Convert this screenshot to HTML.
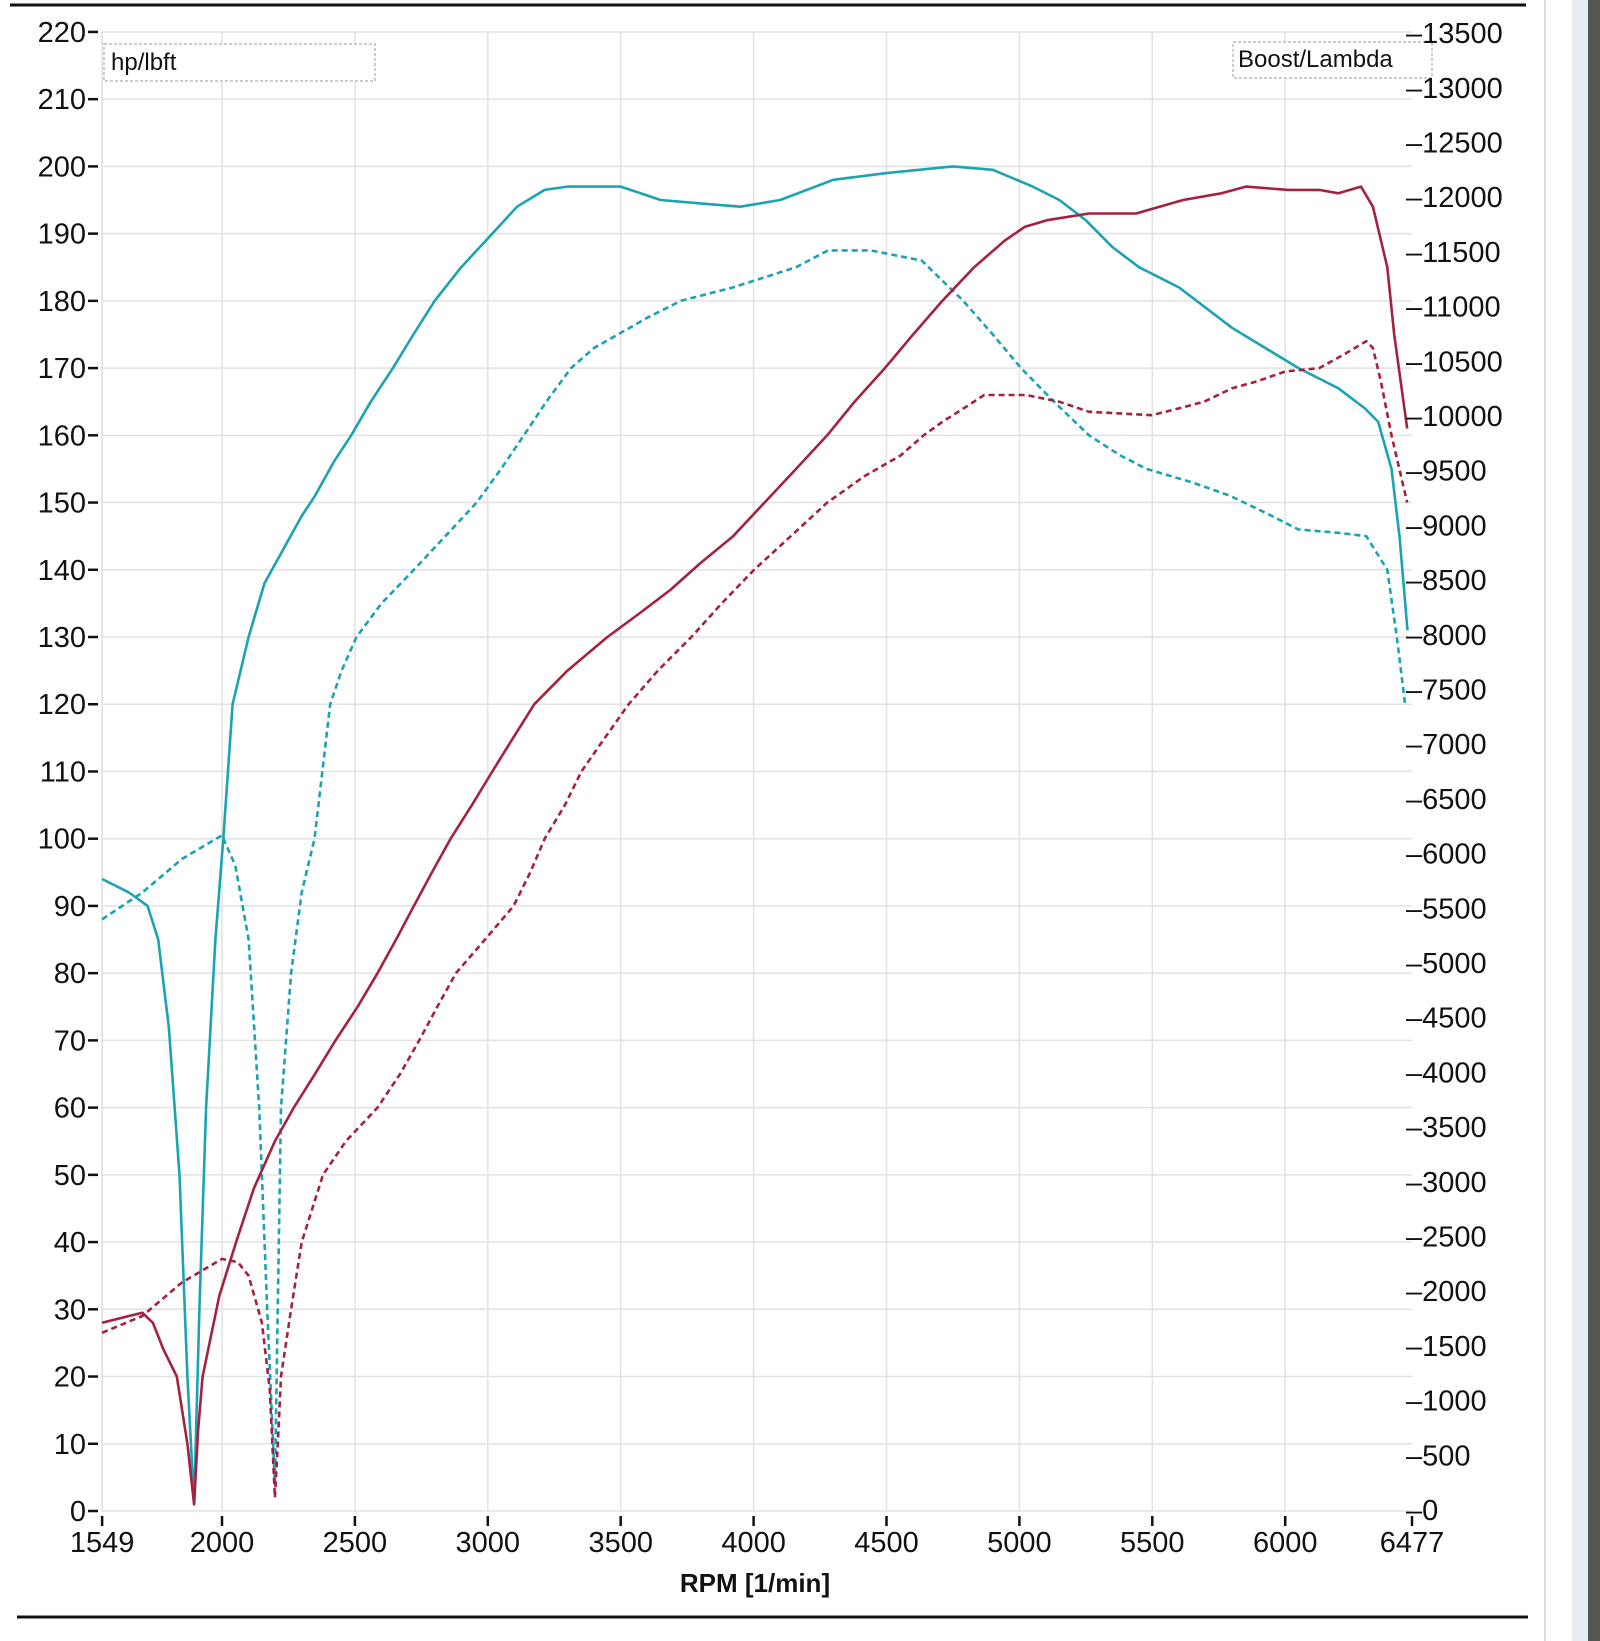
<!DOCTYPE html>
<html><head><meta charset="utf-8"><style>
html,body{margin:0;padding:0;background:#fff;}
svg{display:block}
text{font-family:"Liberation Sans Narrow","Liberation Sans",sans-serif;fill:#111}
</style></head><body>
<svg id="s" width="1600" height="1641" viewBox="0 0 1600 1641" xmlns="http://www.w3.org/2000/svg">
<rect width="1600" height="1641" fill="#fff"/>
<line x1="10" y1="5" x2="1526" y2="5" stroke="#111" stroke-width="3"/>
<line x1="17" y1="1617" x2="1528" y2="1617" stroke="#111" stroke-width="3"/>
<line x1="1545" y1="0" x2="1545" y2="1641" stroke="#ddd" stroke-width="2"/>
<rect x="1588" y="0" width="12" height="1641" fill="#555"/>
<rect x="1572" y="0" width="16" height="1641" fill="#e8eef0"/>
<g id="grid"></g>
<g id="curves"></g>
<rect x="104" y="44" width="271" height="37" fill="#fff" stroke="#bbb" stroke-width="1.5" stroke-dasharray="3,2"/>
<text x="111" y="70" font-size="24">hp/lbft</text>
<rect x="1233" y="42" width="199" height="36" fill="#fff" stroke="#bbb" stroke-width="1.5" stroke-dasharray="3,2"/>
<text x="1238" y="67" font-size="24">Boost/Lambda</text>
<text x="755" y="1592" font-size="26" font-weight="bold" text-anchor="middle">RPM  [1/min]</text>
<g id="labels"></g>
</svg>
<script>
var NS="http://www.w3.org/2000/svg";
function X(r){return 222+(r-2000)*0.2658;}
function Y(v){return 1511-v*6.723;}
function el(p,tag,a,t){var e=document.createElementNS(NS,tag);for(var k in a)e.setAttribute(k,a[k]);if(t!==undefined)e.textContent=t;document.getElementById(p).appendChild(e);return e;}
var L=X(1549),R=X(6477);
for(var v=0;v<=220;v+=10){el("grid","line",{x1:L,x2:R,y1:Y(v),y2:Y(v),stroke:"#e2e2e2","stroke-width":1.5});
 el("labels","text",{x:86,y:Y(v)+10,"font-size":29,"text-anchor":"end"},String(v));
 el("labels","line",{x1:88,x2:98,y1:Y(v),y2:Y(v),stroke:"#111","stroke-width":2.5});}
for(var r=2000;r<=6000;r+=500){el("grid","line",{x1:X(r),x2:X(r),y1:Y(220),y2:Y(0),stroke:"#e2e2e2","stroke-width":1.5});}
el("grid","line",{x1:L,x2:L,y1:Y(220),y2:Y(0),stroke:"#ddd","stroke-width":1.5});
var xl=[[1549,"1549"],[2000,"2000"],[2500,"2500"],[3000,"3000"],[3500,"3500"],[4000,"4000"],[4500,"4500"],[5000,"5000"],[5500,"5500"],[6000,"6000"],[6477,"6477"]];
xl.forEach(function(a){el("labels","line",{x1:X(a[0]),x2:X(a[0]),y1:1516,y2:1526,stroke:"#111","stroke-width":2.5});
 el("labels","text",{x:X(a[0]),y:1552,"font-size":29,"text-anchor":"middle"},a[1]);});
for(var i=0;i<=27;i++){var y=1510-i*54.7;el("labels","text",{x:1406,y:y+10,"font-size":29},"\u2013"+(i*500));}
function path(pts,col,dash){var d="";pts.forEach(function(p,i){d+=(i?"L":"M")+X(p[0]).toFixed(1)+","+Y(p[1]).toFixed(1);});
 var a={d:d,fill:"none",stroke:col,"stroke-width":2.6,"stroke-linejoin":"round"};if(dash)a["stroke-dasharray"]="6,4";el("curves","path",a);}
var C="#1ba3b2",Rd="#a3223f";
path([[1549,94],[1650,92],[1720,90],[1760,85],[1800,72],[1840,50],[1870,20],[1895,1],[1915,30],[1940,60],[1975,85],[2005,100],[2040,120],[2100,130],[2160,138],[2230,143],[2300,148],[2350,151],[2420,156],[2486,160],[2560,165],[2643,170],[2720,175],[2800,180],[2900,185],[3017,190],[3110,194],[3214,196.5],[3300,197],[3500,197],[3650,195],[3800,194.5],[3950,194],[4100,195],[4300,198],[4500,199],[4750,200],[4900,199.5],[5050,197],[5150,195],[5250,192],[5350,188],[5450,185],[5600,182],[5800,176],[6050,170],[6200,167],[6300,164],[6350,162],[6400,155],[6430,145],[6460,131]],C,false);
path([[1549,88],[1700,92],[1850,97],[2000,100.5],[2050,96],[2100,85],[2140,60],[2170,30],[2199,4],[2222,60],[2260,80],[2300,92],[2348,100],[2407,120],[2450,125],[2506,130],[2600,135],[2722,140],[2840,145],[2958,150],[3050,155],[3136,160],[3220,165],[3313,170],[3400,173],[3490,175],[3600,177.5],[3726,180],[3923,182],[4160,185],[4280,187.5],[4440,187.5],[4632,186],[4789,180],[4900,175],[5006,170],[5130,165],[5262,160],[5380,157],[5478,155],[5650,153],[5793,151],[5950,148],[6049,146],[6200,145.5],[6305,145],[6384,140],[6420,130],[6451,120]],C,true);
path([[1549,28],[1650,29],[1700,29.5],[1740,28],[1780,24],[1830,20],[1870,10],[1895,1],[1910,12],[1927,20],[1990,32],[2053,40],[2120,48],[2199,55],[2270,60],[2350,65],[2427,70],[2510,75],[2585,80],[2655,85],[2722,90],[2790,95],[2860,100],[2940,105],[3017,110],[3095,115],[3175,120],[3300,125],[3450,130],[3570,133.5],[3687,137],[3800,141],[3923,145],[4041,150],[4160,155],[4277,160],[4380,165],[4494,170],[4600,175],[4710,180],[4830,185],[4946,189],[5020,191],[5104,192],[5262,193],[5439,193],[5616,195],[5760,196],[5852,197],[6010,196.5],[6128,196.5],[6200,196],[6285,197],[6330,194],[6384,185],[6410,175],[6459,161]],Rd,false);
path([[1549,26.5],[1700,29],[1850,34],[2000,37.5],[2060,37],[2100,35],[2150,28],[2180,18],[2199,2],[2210,10],[2222,20],[2260,30],[2300,40],[2380,50],[2466,55],[2585,60],[2670,65],[2742,70],[2810,75],[2880,80],[2990,85],[3097,90],[3160,95],[3214,100],[3290,105],[3352,110],[3440,115],[3530,120],[3640,125],[3766,130],[3880,135],[4002,140],[4140,145],[4277,150],[4420,154],[4553,157],[4640,160],[4710,162],[4790,164],[4868,166],[5025,166],[5150,165],[5262,163.5],[5498,163],[5600,164],[5695,165],[5800,167],[5892,168],[6000,169.5],[6128,170],[6220,172],[6305,174],[6330,173],[6360,168],[6400,160],[6459,150]],Rd,true);
</script>
</body></html>
